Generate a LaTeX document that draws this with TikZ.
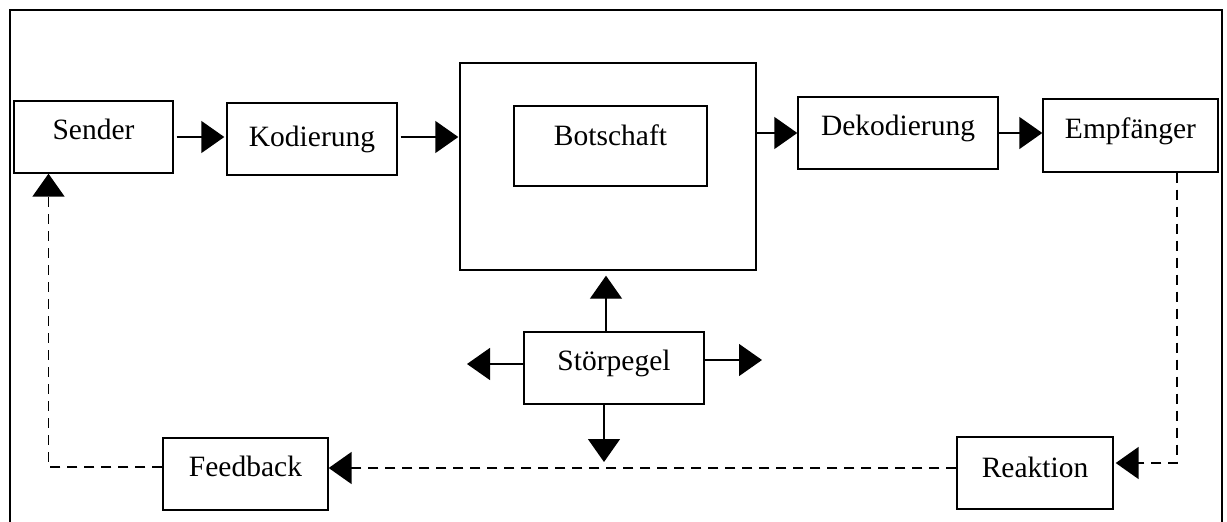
\documentclass[tikz,border=0pt]{standalone}
\usepackage{fontspec}
\setmainfont{Liberation Serif}
\usetikzlibrary{arrows.meta}
\begin{document}
\begin{tikzpicture}[x=1pt,y=-1pt,
  box/.style={draw,line width=1.4pt,inner sep=0pt,anchor=base,
    font=\fontsize{29.5}{35}\selectfont},
  arr/.style={line width=1.4pt,-{Triangle[length=23pt,width=32pt]}},
  darr/.style={arr,line width=1.9pt,dash pattern=on 10pt off 7pt}]
\useasboundingbox (0,0) rectangle (1227,522);
\draw[line width=1.6pt] (10,522) -- (10,10) -- (1222,10) -- (1222,522);
% nodes
\node[box,minimum width=159pt,text height=38pt,text depth=34pt] (sender) at (93.5,139) {Sender};
\node[box,minimum width=170pt,text height=43pt,text depth=29pt] (kod) at (312,146) {Kodierung};
\node[draw,line width=1.4pt,minimum width=296pt,minimum height=207pt,inner sep=0pt] (big) at (608,166.5) {};
\node[box,minimum width=193pt,text height=39pt,text depth=41pt] (bot) at (610.5,145) {Botschaft};
\node[box,minimum width=200pt,text height=38pt,text depth=34pt] (dek) at (898,135) {Dekodierung};
\node[box,minimum width=175pt,text height=39pt,text depth=34pt] (emp) at (1130.5,138) {Empfänger};
\node[box,minimum width=180pt,text height=38pt,text depth=34pt] (stp) at (614,370) {Störpegel};
\node[box,minimum width=165pt,text height=38pt,text depth=34pt] (fb) at (245.5,476) {Feedback};
\node[box,minimum width=156pt,text height=40pt,text depth=32pt] (rea) at (1035,477) {Reaktion};
\coordinate (lt) at (467,364);
\coordinate (rt) at (762,360);
\coordinate (dn) at (604,462);
% solid connectors
\draw[arr,shorten <=3pt,shorten >=2pt] (sender.east) -- (sender.east -| kod.west);
\draw[arr,shorten <=3pt,shorten >=1pt] ([yshift=2pt]kod.east) -- ([yshift=2pt]kod.east -| big.west);
\draw[arr] (dek.west -| big.east) -- (dek.west);
\draw[arr] (dek.east) -- (dek.east -| emp.west);
% dashed feedback loop
\draw[darr] ([xshift=46.5pt]emp.south) |- ([yshift=10pt,xshift=2pt]rea.east);
\draw[darr] ([yshift=5pt]rea.west) -- ([yshift=5pt]rea.west -| fb.east);
\draw[darr] ([yshift=7pt]fb.west) -| ([xshift=-45pt]sender.south);
% noise arrows
\draw[arr,shorten >=5pt] ([xshift=-8pt]stp.north) -- ([xshift=-8pt]stp.north |- big.south);
\draw[arr] ([yshift=4pt]stp.west) -- (lt);
\draw[arr] ([yshift=8pt]stp.east) -- (rt);
\draw[arr] ([xshift=-10pt]stp.south) -- (dn);
\end{tikzpicture}
\end{document}
